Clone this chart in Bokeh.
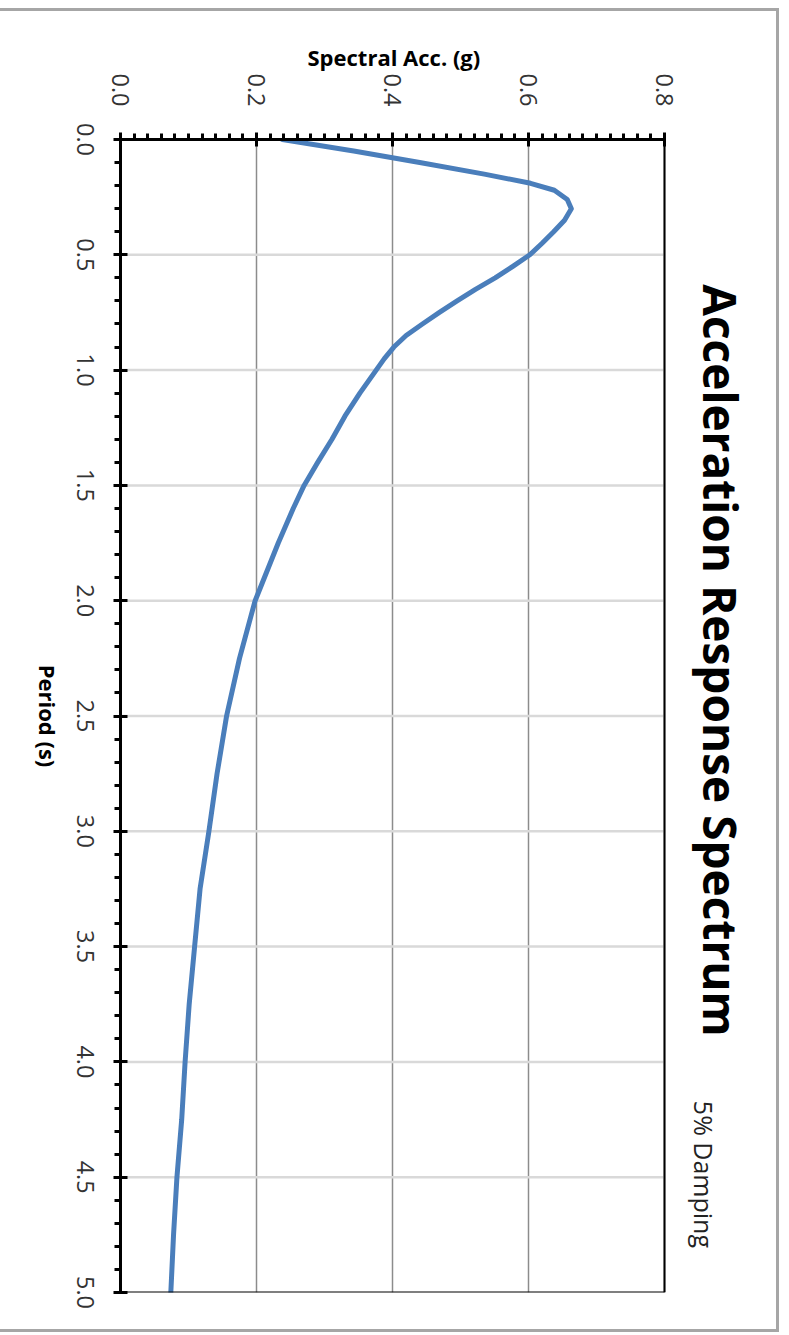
from bokeh.plotting import figure
from bokeh.models import Range1d, SingleIntervalTicker, PrintfTickFormatter, Label
from bokeh.embed import file_html
from bokeh.resources import INLINE

# Data (period in s, spectral acceleration in g)
period = [0.0, 0.05, 0.10, 0.15, 0.19, 0.22, 0.26, 0.30, 0.35, 0.40, 0.45, 0.50,
          0.55, 0.60, 0.65, 0.70, 0.75, 0.80, 0.85, 0.90, 0.95, 1.0, 1.1, 1.2,
          1.3, 1.4, 1.5, 1.6, 1.75, 2.0, 2.25, 2.5, 2.75, 3.0, 3.25, 3.5, 3.75,
          4.0, 4.25, 4.5, 4.75, 5.0]
spectral_acc = [0.238, 0.343, 0.440, 0.535, 0.603, 0.638, 0.657, 0.663, 0.653, 0.637,
                0.620, 0.602, 0.577, 0.551, 0.522, 0.495, 0.469, 0.444, 0.420, 0.402,
                0.388, 0.376, 0.352, 0.330, 0.311, 0.290, 0.270, 0.254, 0.232, 0.198,
                0.175, 0.156, 0.142, 0.130, 0.117, 0.109, 0.101, 0.095, 0.090, 0.083,
                0.078, 0.074]

# Axis extents and tick positions
period_max = 5.0
acc_max = 0.8
period_grid = [0.5, 1.0, 1.5, 2.0, 2.5, 3.0, 3.5, 4.0, 4.5]

title_text = "Acceleration Response Spectrum"
subtitle_text = "5% Damping"
x_title = "Period (s)"
y_title = "Spectral Acc. (g)"

# The chart is drawn in its natural (landscape) orientation and the whole
# figure is turned 90 degrees clockwise with CSS, as in the reference.
# The element (with its borders) is square so that the browser's measured box
# is unchanged by the rotation; the unused lower part ends up off the left
# edge of the page.
W, H = 1318, 1321
S = 1324                  # measured (square) drawing size
frame_px_h = 621          # frame height in px (includes room for the titles)
axis_px_h = 544           # height taken by 0 .. 0.8 g
y_end = acc_max * frame_px_h / axis_px_h

p = figure(width=W, height=H,
           x_range=Range1d(0, period_max), y_range=Range1d(0, y_end),
           output_backend="svg", toolbar_location=None,
           min_border_left=128, min_border_right=S - 128 - 1153,
           min_border_top=34, min_border_bottom=S - 34 - frame_px_h)

p.styles = {"box-sizing": "content-box",
            "transform-origin": "0 0",
            "transform": "translate(779px, 8px) rotate(90deg)",
            "border-left": "3px solid #a6a6a6",
            "border-top": "3px solid #a6a6a6",
            "border-right": "3px solid #a6a6a6"}

p.background_fill_color = "white"
p.border_fill_color = "white"
p.border_fill_alpha = 0
p.outline_line_color = None
p.xgrid.visible = False

xt = SingleIntervalTicker(interval=0.5, num_minor_ticks=5)
yt = SingleIntervalTicker(interval=0.2, num_minor_ticks=10)

xa = p.xaxis[0]
ya = p.yaxis[0]
xa.ticker = xt
ya.ticker = yt
ya.bounds = (0, acc_max)
xa.formatter = PrintfTickFormatter(format="%.1f")
ya.formatter = PrintfTickFormatter(format="%.1f")
xa.axis_label = x_title
# trailing no-break spaces keep the visible title centred on the 0 .. 0.8 g span
ya.axis_label = y_title + "\u00a0" * 13
xa.axis_label_standoff = 11
ya.axis_label_standoff = -2
xa.major_label_standoff = 20
ya.major_label_standoff = 26

for ax in (xa, ya):
    ax.axis_line_color = "black"
    ax.axis_line_width = 3
    ax.major_tick_line_color = "black"
    ax.major_tick_line_width = 3
    ax.minor_tick_line_color = "black"
    ax.minor_tick_line_width = 3
    ax.major_tick_in = 7
    ax.major_tick_out = 7
    ax.minor_tick_in = 0
    ax.minor_tick_out = 6
    ax.major_label_text_font = "Open Sans"
    ax.major_label_text_font_size = "23.5px"
    ax.major_label_text_color = "#333333"
    ax.axis_label_text_font = "Open Sans"
    ax.axis_label_text_font_style = "bold"
    ax.axis_label_text_font_size = "22px"
    ax.axis_label_text_color = "black"

p.ygrid.ticker = yt
p.ygrid.grid_line_color = "#8c8c8c"
p.ygrid.grid_line_width = 1.5

# light grid lines at the period ticks, limited to the plotting area
p.segment(x0=period_grid, y0=[0] * len(period_grid),
          x1=period_grid, y1=[acc_max] * len(period_grid),
          line_color="#d9d9d9", line_width=2.5)

p.line(x=period, y=spectral_acc, line_color="#4a7ebb", line_width=5,
       line_join="round", line_cap="round")

# plot-area border (top and far end)
p.segment(x0=[0, period_max], y0=[acc_max, 0],
          x1=[period_max, period_max], y1=[acc_max, acc_max],
          line_color="black", line_width=2)

p.add_layout(Label(x=2.259, y=0.8838, text=title_text,
                   text_align="center", text_baseline="middle",
                   text_font="Open Sans", text_font_style="bold",
                   text_font_size="46px", text_color="black"))
p.add_layout(Label(x=4.488, y=0.8588, text=subtitle_text,
                   text_align="center", text_baseline="middle",
                   text_font="Open Sans", text_font_size="25px",
                   text_color="#222222"))

open("out.html", "w").write(file_html(p, INLINE))
